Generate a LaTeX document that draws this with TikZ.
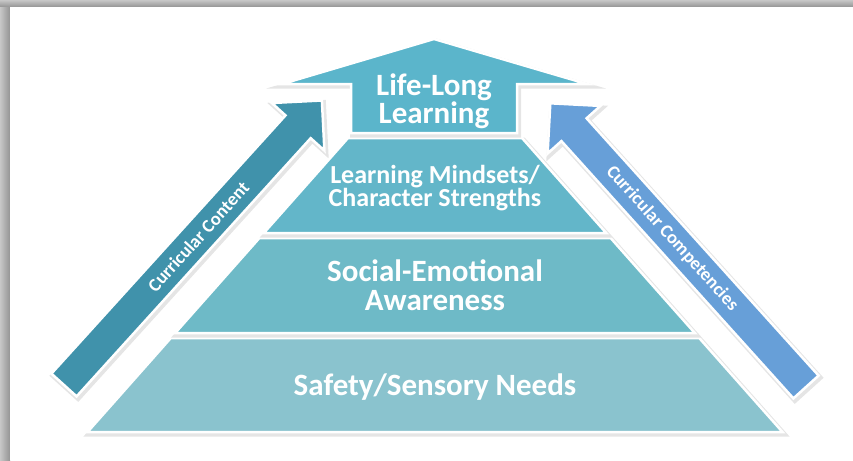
\documentclass[tikz,border=0pt]{standalone}
\usepackage{fontspec}
\setmainfont{Carlito}

\definecolor{toparrow}{RGB}{91,181,203}
\definecolor{mindset}{RGB}{99,182,201}
\definecolor{social}{RGB}{110,186,199}
\definecolor{safety}{RGB}{138,195,206}
\definecolor{content}{RGB}{64,146,171}
\definecolor{competency}{RGB}{103,159,216}

\begin{document}
\begin{tikzpicture}[x=1pt,y=-1pt,
    soft shadow/.style={preaction={draw=black,line width=5pt,opacity=.1,
        transform canvas={shift={(1.5pt,-2pt)}}}},
    block/.style={draw=white,line width=2.5pt,line join=miter,soft shadow},
    level/.style={text=white,font=\bfseries,align=center}]
  \useasboundingbox (0,0) rectangle (853,460);

  % window edge
  \shade[left color=black!22,right color=black!42] (0,0) rectangle (10,460);
  \shade[top color=black!22,bottom color=black!42] (0,0) rectangle (853,7);
  \fill[white] (10,7) rectangle (853,460);

  % side arrows
  \path[block,fill=content] (51.4,373.6) -- (285.5,115.4) -- (271.8,103.0) -- (321.9,100.5)
    -- (324.4,150.6) -- (310.7,138.2) -- (76.6,396.4) -- cycle;
  \path[block,fill=competency] (818.6,375.6) -- (586.6,118.3) -- (600.4,105.9) -- (550.3,103.3)
    -- (547.6,153.5) -- (561.4,141.1) -- (793.4,398.4) -- cycle;

  % pyramid, bottom to top
  \path[block,fill=safety] (87.5,432) -- (782.5,432) -- (699.2,338) -- (170.8,338) -- cycle;
  \path[block,fill=social] (175.2,333) -- (694.8,333) -- (610.6,238) -- (259.4,238) -- cycle;
  \path[block,fill=mindset] (263.8,233) -- (606.2,233) -- (522,138) -- (348,138) -- cycle;

  % arrow on top
  \path[block,fill=toparrow] (434,39) -- (587,84) -- (517,84) -- (517,133)
    -- (351,133) -- (351,84) -- (282,84) -- cycle;

  % labels
  \node[level,font=\bfseries\fontsize{31}{28.5}\selectfont] (lifelong) at (434,101) {Life-Long\\Learning};
  \node[level,font=\bfseries\fontsize{26}{23}\selectfont] (mindsets) at (435,188) {Learning Mindsets/\\Character Strengths};
  \node[level,font=\bfseries\fontsize{31}{29}\selectfont] (socialem) at (435,285) {Social-Emotional\\Awareness};
  \node[level,font=\bfseries\fontsize{31}{29}\selectfont] (safetyneeds) at (435,387) {Safety/Sensory Needs};

  \node[level,font=\bfseries\fontsize{18.5}{18}\selectfont,rotate=47.8] (curcontent) at (198.3,236.8) {Curricular Content};
  \node[level,font=\bfseries\fontsize{18.5}{18}\selectfont,rotate=-48] (curcompet) at (672.1,238.5) {Curricular Competencies};
\end{tikzpicture}
\end{document}
